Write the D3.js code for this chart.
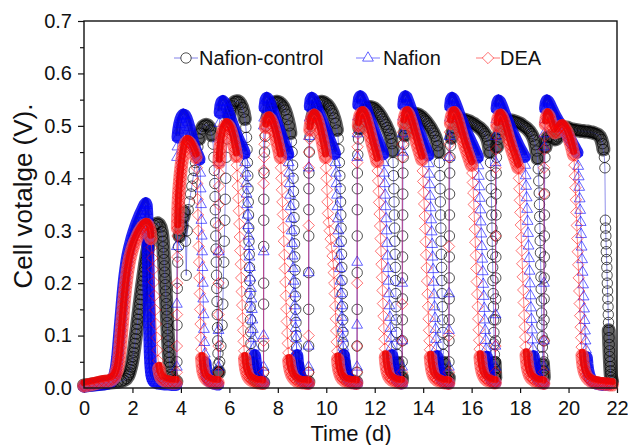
<!DOCTYPE html>
<html><head><meta charset="utf-8">
<script src="https://cdn.jsdelivr.net/npm/d3@7"></script>
<style>body{margin:0;background:#fff}svg{display:block}text{font-family:"Liberation Sans",Arial,sans-serif}</style>
</head><body><svg id="c" width="628" height="445"></svg>
<script>
const xTicks=[0,2,4,6,8,10,12,14,16,18,20,22];
const yTicks=[0,0.1,0.2,0.3,0.4,0.5,0.6,0.7];
const yMinorTicks=[0.05,0.15,0.25,0.35,0.45,0.55,0.65];
const seriesNames=["Nafion-control","Nafion","DEA"];
const xTitle="Time (d)";
const yTitle="Cell votalge (V).";

// [time (d), cell voltage (V)]
const controlData=[
[0,0.005],[0.2,0.006],[0.4,0.007],[0.6,0.008],[0.8,0.009],[1,0.01],[1.2,0.011],[1.4,0.012],[1.55,0.013],[1.65,0.015],[1.75,0.018],[1.82,0.023],[1.85,0.026],[1.88,0.03],[1.91,0.035],[1.94,0.04],[1.97,0.046],[2,0.053],[2.025,0.06],[2.05,0.068],[2.075,0.076],[2.1,0.085],[2.125,0.094],[2.15,0.103],[2.175,0.112],[2.2,0.122],[2.225,0.131],[2.25,0.141],[2.275,0.15],[2.3,0.16],[2.325,0.169],[2.35,0.178],[2.375,0.187],[2.4,0.196],[2.425,0.204],[2.45,0.213],[2.475,0.221],[2.5,0.229],[2.525,0.237],[2.55,0.244],[2.575,0.251],[2.6,0.258],[2.625,0.264],[2.65,0.27],[2.675,0.276],[2.7,0.281],[2.75,0.29],[2.8,0.298],[2.86,0.305],[2.92,0.31],[2.98,0.313],[3.04,0.314],[3.1,0.312],[3.16,0.307],[3.21,0.298],[3.235,0.29],[3.255,0.28],[3.272,0.269],[3.288,0.257],[3.303,0.245],[3.317,0.233],[3.33,0.221],[3.343,0.209],[3.356,0.197],[3.369,0.185],[3.382,0.173],[3.395,0.161],[3.408,0.149],[3.421,0.137],[3.434,0.125],[3.447,0.113],[3.46,0.101],[3.473,0.09],[3.486,0.079],[3.5,0.068],[3.515,0.058],[3.53,0.049],[3.548,0.04],[3.568,0.032],[3.59,0.026],[3.62,0.021],[3.66,0.017],[3.72,0.014],[3.78,0.013],[3.81,0.012],
[3.835,0.05],[3.84,0.12],[3.85,0.19],[3.87,0.24],[3.9,0.27],[3.94,0.29],[3.99,0.3],[4.04,0.31],[4.09,0.325],[4.14,0.335],[4.19,0.28],[4.22,0.215],[4.26,0.3],[4.3,0.34],[4.35,0.355],[4.4,0.37],[4.45,0.385],[4.5,0.4],[4.55,0.415],[4.6,0.43],[4.65,0.445],[4.7,0.46],[4.75,0.475],[4.8,0.486],[4.86,0.494],[4.92,0.499],[4.98,0.501],[5.04,0.502],[5.1,0.501],[5.16,0.498],[5.22,0.492],[5.28,0.482],[5.33,0.465],[5.36,0.44],[5.38,0.415],[5.4,0.39],[5.41,0.365],[5.42,0.34],[5.43,0.315],[5.44,0.29],[5.45,0.265],[5.46,0.24],[5.47,0.215],[5.48,0.19],[5.49,0.165],[5.5,0.14],[5.51,0.115],[5.52,0.09],[5.53,0.066],[5.54,0.045],[5.548,0.03],
[5.56,0.03],[5.6,0.05],[5.65,0.08],[5.7,0.12],[5.73,0.16],[5.75,0.2],[5.77,0.24],[5.79,0.28],[5.81,0.32],[5.83,0.36],[5.85,0.4],[5.87,0.44],[5.9,0.475],[5.94,0.5],[5.99,0.518],[6.05,0.53],[6.11,0.538],[6.17,0.543],[6.23,0.546],[6.29,0.547],[6.35,0.547],[6.41,0.545],[6.47,0.541],[6.53,0.535],[6.59,0.526],[6.64,0.513],[6.68,0.497],[6.71,0.478],[6.73,0.455],[6.745,0.43],[6.76,0.405],[6.77,0.38],[6.78,0.355],[6.79,0.33],[6.8,0.305],[6.81,0.28],[6.82,0.255],[6.83,0.23],[6.84,0.205],[6.85,0.18],[6.86,0.155],[6.87,0.13],[6.88,0.107],[6.89,0.085],[6.9,0.065],[6.92,0.048],[6.94,0.035],[6.97,0.026],[7.01,0.02],[7.07,0.016],[7.15,0.013],[7.25,0.011],[7.35,0.01],[7.4,0.01],
[7.41,0.03],[7.412,0.08],[7.414,0.16],[7.416,0.2],[7.418,0.27],[7.42,0.32],[7.422,0.36],[7.43,0.41],[7.45,0.45],[7.48,0.48],[7.52,0.5],[7.57,0.515],[7.63,0.526],[7.69,0.534],[7.75,0.539],[7.81,0.543],[7.87,0.545],[7.93,0.546],[7.99,0.546],[8.05,0.545],[8.11,0.543],[8.17,0.54],[8.23,0.536],[8.29,0.53],[8.35,0.522],[8.41,0.512],[8.47,0.5],[8.52,0.486],[8.56,0.47],[8.59,0.45],[8.61,0.425],[8.63,0.4],[8.645,0.375],[8.66,0.35],[8.67,0.325],[8.68,0.3],[8.69,0.275],[8.7,0.25],[8.71,0.225],[8.72,0.2],[8.73,0.175],[8.74,0.15],[8.75,0.125],[8.76,0.1],[8.775,0.078],[8.79,0.058],[8.81,0.042],[8.84,0.03],[8.88,0.022],[8.94,0.017],[9.02,0.014],[9.12,0.012],[9.22,0.011],[9.26,0.011],
[9.27,0.03],[9.272,0.08],[9.274,0.15],[9.276,0.22],[9.278,0.29],[9.28,0.34],[9.282,0.38],[9.285,0.41],[9.3,0.45],[9.33,0.48],[9.37,0.5],[9.42,0.515],[9.48,0.526],[9.54,0.534],[9.6,0.539],[9.66,0.543],[9.72,0.545],[9.78,0.546],[9.84,0.546],[9.9,0.545],[9.96,0.543],[10.02,0.541],[10.08,0.538],[10.14,0.534],[10.2,0.529],[10.26,0.523],[10.32,0.515],[10.38,0.505],[10.44,0.492],[10.49,0.476],[10.52,0.455],[10.54,0.43],[10.56,0.405],[10.575,0.38],[10.59,0.355],[10.6,0.33],[10.61,0.305],[10.62,0.28],[10.63,0.255],[10.64,0.23],[10.65,0.205],[10.66,0.18],[10.67,0.155],[10.68,0.13],[10.69,0.106],[10.7,0.084],[10.715,0.064],[10.73,0.048],[10.76,0.035],[10.8,0.026],[10.86,0.019],[10.94,0.015],[11.04,0.013],[11.14,0.012],[11.24,0.011],
[11.27,0.03],[11.272,0.08],[11.274,0.15],[11.276,0.22],[11.278,0.29],[11.28,0.34],[11.282,0.38],[11.285,0.41],[11.3,0.445],[11.33,0.475],[11.37,0.495],[11.42,0.508],[11.48,0.518],[11.54,0.525],[11.6,0.53],[11.66,0.533],[11.72,0.535],[11.78,0.536],[11.84,0.536],[11.9,0.535],[11.96,0.534],[12.02,0.532],[12.08,0.529],[12.14,0.526],[12.2,0.522],[12.26,0.518],[12.32,0.513],[12.38,0.508],[12.44,0.503],[12.5,0.497],[12.56,0.491],[12.62,0.484],[12.67,0.476],[12.71,0.466],[12.74,0.452],[12.76,0.43],[12.775,0.405],[12.79,0.38],[12.8,0.355],[12.81,0.33],[12.82,0.305],[12.83,0.28],[12.84,0.255],[12.85,0.23],[12.86,0.205],[12.87,0.18],[12.88,0.155],[12.89,0.13],[12.9,0.106],[12.91,0.084],[12.925,0.064],[12.94,0.048],[12.96,0.036],[12.99,0.027],[13.03,0.02],[13.08,0.016],[13.12,0.014],
[13.13,0.02],[13.133,0.05],[13.136,0.09],[13.14,0.13],[13.143,0.17],[13.146,0.21],[13.15,0.25],[13.153,0.29],[13.156,0.33],[13.16,0.37],[13.165,0.41],[13.175,0.44],[13.2,0.465],[13.24,0.482],[13.29,0.495],[13.35,0.505],[13.41,0.512],[13.47,0.517],[13.53,0.52],[13.59,0.522],[13.65,0.523],[13.71,0.523],[13.77,0.522],[13.83,0.521],[13.89,0.519],[13.95,0.517],[14.01,0.514],[14.07,0.511],[14.13,0.508],[14.19,0.504],[14.25,0.5],[14.31,0.496],[14.37,0.491],[14.43,0.486],[14.49,0.48],[14.55,0.472],[14.6,0.462],[14.64,0.45],[14.67,0.43],[14.69,0.405],[14.7,0.38],[14.71,0.355],[14.72,0.33],[14.73,0.305],[14.74,0.28],[14.75,0.255],[14.76,0.23],[14.77,0.205],[14.78,0.18],[14.79,0.155],[14.8,0.13],[14.81,0.106],[14.82,0.084],[14.835,0.064],[14.85,0.048],[14.87,0.036],[14.9,0.027],[14.94,0.02],[14.99,0.016],[15.04,0.014],
[15.06,0.02],[15.063,0.05],[15.066,0.09],[15.07,0.13],[15.073,0.17],[15.076,0.21],[15.08,0.25],[15.083,0.29],[15.086,0.33],[15.09,0.37],[15.095,0.41],[15.105,0.44],[15.13,0.462],[15.17,0.477],[15.22,0.488],[15.28,0.496],[15.34,0.502],[15.4,0.506],[15.46,0.509],[15.52,0.511],[15.58,0.512],[15.64,0.512],[15.7,0.512],[15.76,0.511],[15.82,0.51],[15.88,0.509],[15.94,0.508],[16,0.506],[16.06,0.505],[16.12,0.503],[16.18,0.501],[16.24,0.499],[16.3,0.497],[16.36,0.495],[16.42,0.492],[16.48,0.489],[16.54,0.485],[16.6,0.48],[16.66,0.473],[16.71,0.463],[16.75,0.45],[16.78,0.43],[16.8,0.405],[16.81,0.38],[16.82,0.355],[16.83,0.33],[16.84,0.305],[16.85,0.28],[16.86,0.255],[16.87,0.23],[16.88,0.205],[16.89,0.18],[16.9,0.155],[16.91,0.13],[16.92,0.106],[16.93,0.084],[16.94,0.064],[16.95,0.048],[16.96,0.036],[16.97,0.027],[16.975,0.02],
[16.98,0.02],[16.983,0.05],[16.986,0.09],[16.99,0.13],[16.993,0.17],[16.996,0.21],[17,0.25],[17.003,0.29],[17.006,0.33],[17.01,0.37],[17.015,0.41],[17.025,0.44],[17.05,0.46],[17.09,0.474],[17.14,0.485],[17.2,0.493],[17.26,0.499],[17.32,0.503],[17.38,0.506],[17.44,0.508],[17.5,0.509],[17.56,0.51],[17.62,0.51],[17.68,0.51],[17.74,0.509],[17.8,0.508],[17.86,0.507],[17.92,0.506],[17.98,0.505],[18.04,0.503],[18.1,0.501],[18.16,0.499],[18.22,0.497],[18.28,0.495],[18.34,0.492],[18.4,0.489],[18.46,0.485],[18.52,0.48],[18.58,0.473],[18.63,0.464],[18.68,0.452],[18.72,0.438],[18.75,0.418],[18.77,0.395],[18.79,0.372],[18.8,0.35],[18.81,0.327],[18.82,0.304],[18.83,0.281],[18.84,0.258],[18.85,0.235],[18.86,0.212],[18.87,0.189],[18.88,0.166],[18.89,0.143],[18.9,0.12],[18.91,0.098],[18.92,0.078],[18.93,0.06],[18.945,0.045],[18.96,0.033],[18.975,0.025],
[18.98,0.02],[18.983,0.05],[18.986,0.09],[18.99,0.13],[18.993,0.17],[18.996,0.21],[19,0.25],[19.003,0.29],[19.006,0.33],[19.01,0.37],[19.015,0.41],[19.025,0.44],[19.05,0.46],[19.09,0.472],[19.14,0.478],[19.2,0.48],[19.26,0.479],[19.32,0.477],[19.38,0.475],[19.44,0.474],[19.5,0.475],[19.56,0.479],[19.62,0.485],[19.68,0.49],[19.74,0.494],[19.8,0.496],[19.86,0.497],[19.92,0.497],[19.98,0.496],[20.04,0.495],[20.1,0.494],[20.16,0.493],[20.22,0.493],[20.28,0.492],[20.34,0.492],[20.4,0.491],[20.46,0.491],[20.52,0.49],[20.58,0.49],[20.64,0.49],[20.7,0.489],[20.76,0.489],[20.82,0.489],[20.88,0.488],[20.94,0.488],[21,0.487],[21.06,0.486],[21.12,0.485],[21.18,0.484],[21.24,0.482],[21.3,0.479],[21.35,0.474],[21.4,0.466],[21.44,0.455],[21.48,0.44],[21.5,0.42],[21.52,0.32],[21.53,0.305],[21.54,0.29],[21.55,0.275],[21.56,0.26],[21.57,0.245],[21.58,0.23],[21.59,0.215],[21.6,0.2],[21.61,0.185],[21.62,0.17],[21.63,0.155],[21.64,0.14],[21.65,0.125],[21.66,0.11],[21.67,0.096],[21.68,0.083],[21.69,0.071],[21.7,0.06],[21.71,0.05],[21.72,0.041],[21.73,0.033],[21.74,0.026],[21.76,0.02],[21.78,0.015],[21.8,0.012]
];

const nafionData=[
[0,0.003],[0.2,0.004],[0.4,0.005],[0.6,0.006],[0.8,0.007],[1,0.009],[1.1,0.012],[1.2,0.017],[1.24,0.021],[1.27,0.026],[1.3,0.032],[1.33,0.04],[1.355,0.049],[1.38,0.059],[1.4,0.069],[1.42,0.08],[1.44,0.091],[1.46,0.102],[1.48,0.113],[1.5,0.124],[1.52,0.135],[1.54,0.146],[1.56,0.157],[1.58,0.168],[1.6,0.178],[1.62,0.188],[1.64,0.197],[1.66,0.206],[1.68,0.214],[1.71,0.225],[1.74,0.235],[1.77,0.244],[1.8,0.252],[1.84,0.261],[1.88,0.269],[1.93,0.278],[1.98,0.287],[2.04,0.296],[2.11,0.306],[2.18,0.315],[2.25,0.323],[2.32,0.331],[2.39,0.338],[2.45,0.344],[2.5,0.349],[2.55,0.352],[2.58,0.348],[2.595,0.337],[2.605,0.325],[2.613,0.313],[2.62,0.301],[2.626,0.289],[2.632,0.277],[2.638,0.265],[2.644,0.253],[2.65,0.241],[2.655,0.229],[2.66,0.217],[2.665,0.205],[2.67,0.193],[2.675,0.181],[2.68,0.169],[2.685,0.157],[2.69,0.145],[2.695,0.133],[2.7,0.121],[2.705,0.109],[2.71,0.097],[2.716,0.085],[2.722,0.074],[2.73,0.063],[2.74,0.053],[2.75,0.044],[2.765,0.036],[2.78,0.029],[2.8,0.023],[2.83,0.018],[2.87,0.014],[2.93,0.011],[3.05,0.009],[3.2,0.008],[3.35,0.007],[3.5,0.007],[3.65,0.006],[3.8,0.006],
[3.83,0.04],[3.833,0.16],[3.836,0.27],[3.84,0.44],[3.855,0.46],[3.87,0.478],[3.9,0.492],[3.94,0.503],[3.99,0.512],[4.04,0.518],[4.1,0.521],[4.16,0.52],[4.22,0.515],[4.28,0.507],[4.34,0.497],[4.4,0.486],[4.46,0.475],[4.52,0.465],[4.58,0.456],[4.64,0.449],[4.7,0.443],[4.76,0.436],[4.8,0.41],[4.815,0.38],[4.83,0.35],[4.845,0.32],[4.86,0.29],[4.875,0.26],[4.89,0.23],[4.905,0.2],[4.92,0.17],[4.935,0.14],[4.95,0.112],[4.965,0.087],[4.985,0.065],[5.005,0.048],[5.03,0.035],[5.06,0.026],[5.1,0.019],[5.16,0.014],[5.24,0.011],[5.34,0.009],[5.44,0.008],[5.53,0.007],
[5.55,0.04],[5.553,0.11],[5.556,0.26],[5.56,0.43],[5.575,0.475],[5.59,0.505],[5.61,0.525],[5.64,0.538],[5.68,0.545],[5.73,0.547],[5.79,0.544],[5.85,0.538],[5.91,0.531],[5.97,0.523],[6.03,0.515],[6.09,0.507],[6.15,0.499],[6.21,0.492],[6.27,0.485],[6.33,0.478],[6.39,0.472],[6.45,0.466],[6.51,0.46],[6.57,0.454],[6.62,0.448],[6.65,0.43],[6.67,0.41],[6.69,0.39],[6.71,0.37],[6.73,0.35],[6.75,0.33],[6.77,0.31],[6.79,0.29],[6.81,0.27],[6.83,0.25],[6.85,0.23],[6.87,0.21],[6.89,0.19],[6.91,0.17],[6.93,0.15],[6.95,0.13],[6.97,0.112],[6.99,0.095],[7.02,0.078],[7.05,0.062],[7.08,0.048],[7.11,0.037],[7.15,0.028],[7.2,0.021],[7.26,0.016],[7.33,0.012],[7.4,0.01],
[7.41,0.04],[7.413,0.1],[7.416,0.26],[7.42,0.5],[7.435,0.515],[7.46,0.535],[7.5,0.549],[7.54,0.553],[7.59,0.551],[7.65,0.545],[7.71,0.537],[7.77,0.529],[7.83,0.521],[7.89,0.513],[7.95,0.505],[8.01,0.497],[8.07,0.489],[8.13,0.481],[8.19,0.474],[8.25,0.467],[8.31,0.46],[8.37,0.453],[8.42,0.446],[8.45,0.43],[8.47,0.41],[8.49,0.39],[8.51,0.368],[8.53,0.346],[8.55,0.323],[8.57,0.3],[8.59,0.276],[8.61,0.252],[8.63,0.228],[8.65,0.204],[8.67,0.18],[8.69,0.157],[8.71,0.135],[8.73,0.114],[8.75,0.095],[8.77,0.078],[8.795,0.062],[8.82,0.048],[8.85,0.037],[8.89,0.028],[8.94,0.021],[9,0.016],[9.08,0.012],[9.17,0.01],[9.25,0.009],
[9.27,0.04],[9.273,0.08],[9.276,0.22],[9.28,0.42],[9.29,0.48],[9.31,0.515],[9.33,0.537],[9.36,0.549],[9.4,0.553],[9.45,0.551],[9.51,0.545],[9.57,0.538],[9.63,0.531],[9.69,0.524],[9.75,0.517],[9.81,0.51],[9.87,0.503],[9.93,0.496],[9.99,0.489],[10.05,0.482],[10.11,0.475],[10.17,0.468],[10.23,0.461],[10.29,0.454],[10.35,0.447],[10.38,0.43],[10.4,0.41],[10.42,0.39],[10.44,0.368],[10.46,0.346],[10.48,0.323],[10.5,0.3],[10.52,0.276],[10.54,0.252],[10.56,0.228],[10.58,0.204],[10.6,0.18],[10.62,0.157],[10.64,0.135],[10.66,0.114],[10.68,0.095],[10.7,0.078],[10.725,0.062],[10.75,0.048],[10.78,0.037],[10.82,0.028],[10.87,0.021],[10.93,0.016],[11.01,0.012],[11.1,0.01],[11.2,0.009],[11.26,0.009],
[11.27,0.04],[11.273,0.12],[11.276,0.24],[11.28,0.44],[11.29,0.485],[11.31,0.517],[11.33,0.54],[11.36,0.552],[11.4,0.556],[11.45,0.554],[11.51,0.548],[11.57,0.541],[11.63,0.533],[11.69,0.525],[11.75,0.517],[11.81,0.509],[11.87,0.501],[11.93,0.494],[11.99,0.487],[12.05,0.48],[12.11,0.473],[12.17,0.466],[12.23,0.459],[12.29,0.452],[12.34,0.446],[12.37,0.43],[12.39,0.41],[12.41,0.39],[12.43,0.368],[12.45,0.346],[12.47,0.323],[12.49,0.3],[12.51,0.276],[12.53,0.252],[12.55,0.228],[12.57,0.204],[12.59,0.18],[12.61,0.157],[12.63,0.135],[12.65,0.114],[12.67,0.095],[12.69,0.078],[12.715,0.062],[12.74,0.048],[12.77,0.037],[12.81,0.028],[12.86,0.021],[12.92,0.016],[13,0.012],[13.07,0.01],[13.12,0.009],
[13.13,0.04],[13.133,0.09],[13.136,0.2],[13.14,0.45],[13.15,0.485],[13.17,0.517],[13.19,0.54],[13.22,0.552],[13.26,0.556],[13.31,0.554],[13.37,0.547],[13.43,0.539],[13.49,0.531],[13.55,0.523],[13.61,0.515],[13.67,0.507],[13.73,0.499],[13.79,0.492],[13.85,0.485],[13.91,0.478],[13.97,0.471],[14.03,0.464],[14.09,0.457],[14.15,0.45],[14.2,0.444],[14.23,0.428],[14.25,0.408],[14.27,0.388],[14.29,0.366],[14.31,0.344],[14.33,0.321],[14.35,0.298],[14.37,0.274],[14.39,0.25],[14.41,0.226],[14.43,0.202],[14.45,0.178],[14.47,0.155],[14.49,0.133],[14.51,0.112],[14.53,0.093],[14.55,0.076],[14.575,0.06],[14.6,0.047],[14.63,0.036],[14.67,0.027],[14.72,0.02],[14.79,0.015],[14.87,0.012],[14.96,0.01],[15.05,0.009],
[15.06,0.04],[15.063,0.11],[15.066,0.18],[15.07,0.44],[15.08,0.48],[15.1,0.515],[15.12,0.537],[15.15,0.549],[15.19,0.553],[15.24,0.551],[15.3,0.545],[15.36,0.538],[15.42,0.53],[15.48,0.522],[15.54,0.515],[15.6,0.508],[15.66,0.501],[15.72,0.494],[15.78,0.488],[15.84,0.482],[15.9,0.476],[15.96,0.47],[16.02,0.464],[16.08,0.458],[16.14,0.452],[16.2,0.446],[16.25,0.44],[16.28,0.424],[16.3,0.404],[16.32,0.384],[16.34,0.362],[16.36,0.34],[16.38,0.317],[16.4,0.294],[16.42,0.27],[16.44,0.246],[16.46,0.222],[16.48,0.198],[16.5,0.175],[16.52,0.152],[16.54,0.13],[16.56,0.11],[16.58,0.091],[16.6,0.074],[16.625,0.059],[16.65,0.046],[16.68,0.035],[16.72,0.027],[16.77,0.02],[16.83,0.015],[16.9,0.012],[16.97,0.01],
[16.98,0.04],[16.983,0.08],[16.986,0.14],[16.99,0.43],[17,0.48],[17.02,0.512],[17.04,0.533],[17.07,0.544],[17.11,0.548],[17.16,0.546],[17.22,0.54],[17.28,0.533],[17.34,0.525],[17.4,0.518],[17.46,0.511],[17.52,0.504],[17.58,0.497],[17.64,0.491],[17.7,0.485],[17.76,0.479],[17.82,0.473],[17.88,0.467],[17.94,0.461],[18,0.456],[18.06,0.451],[18.12,0.446],[18.18,0.441],[18.21,0.425],[18.23,0.405],[18.25,0.385],[18.27,0.363],[18.29,0.341],[18.31,0.318],[18.33,0.295],[18.35,0.271],[18.37,0.247],[18.39,0.223],[18.41,0.199],[18.43,0.176],[18.45,0.153],[18.47,0.131],[18.49,0.111],[18.51,0.092],[18.53,0.075],[18.555,0.06],[18.58,0.047],[18.61,0.036],[18.65,0.027],[18.7,0.02],[18.77,0.015],[18.85,0.012],[18.93,0.01],[18.97,0.009],
[18.98,0.04],[18.983,0.09],[18.986,0.2],[18.99,0.46],[19,0.485],[19.02,0.512],[19.04,0.533],[19.07,0.544],[19.11,0.548],[19.16,0.546],[19.22,0.541],[19.28,0.535],[19.34,0.529],[19.4,0.523],[19.46,0.518],[19.52,0.513],[19.58,0.508],[19.64,0.504],[19.7,0.5],[19.76,0.496],[19.82,0.492],[19.88,0.488],[19.94,0.484],[20,0.479],[20.06,0.474],[20.12,0.469],[20.18,0.464],[20.24,0.459],[20.3,0.454],[20.36,0.449],[20.4,0.423],[20.42,0.403],[20.44,0.383],[20.46,0.361],[20.48,0.339],[20.5,0.316],[20.52,0.293],[20.54,0.269],[20.56,0.245],[20.58,0.221],[20.6,0.197],[20.62,0.174],[20.64,0.151],[20.66,0.129],[20.68,0.109],[20.7,0.09],[20.72,0.073],[20.745,0.058],[20.77,0.045],[20.8,0.034],[20.84,0.026],[20.89,0.019],[20.96,0.014],[21.04,0.011],[21.14,0.009],[21.24,0.008],[21.34,0.007],[21.44,0.006],[21.54,0.006],[21.6,0.006]
];

const deaData=[
[0,0.004],[0.2,0.006],[0.4,0.008],[0.6,0.01],[0.8,0.012],[1,0.013],[1.15,0.016],[1.25,0.02],[1.29,0.024],[1.32,0.028],[1.35,0.032],[1.38,0.037],[1.405,0.043],[1.43,0.05],[1.45,0.058],[1.47,0.067],[1.49,0.077],[1.51,0.088],[1.53,0.099],[1.55,0.11],[1.57,0.121],[1.59,0.132],[1.61,0.143],[1.63,0.154],[1.65,0.164],[1.67,0.174],[1.69,0.183],[1.71,0.192],[1.73,0.2],[1.76,0.211],[1.79,0.221],[1.82,0.23],[1.85,0.238],[1.88,0.245],[1.92,0.253],[1.96,0.26],[2,0.266],[2.05,0.273],[2.1,0.279],[2.16,0.285],[2.22,0.291],[2.28,0.297],[2.35,0.302],[2.42,0.307],[2.49,0.31],[2.56,0.312],[2.62,0.311],[2.68,0.306],[2.73,0.298],[2.76,0.285],[2.79,0.268],[2.82,0.248],[2.85,0.226],[2.88,0.202],[2.91,0.176],[2.94,0.149],[2.97,0.122],[3,0.096],[3.03,0.072],[3.06,0.052],[3.09,0.037],[3.13,0.027],[3.18,0.02],[3.25,0.016],[3.35,0.013],[3.5,0.011],[3.65,0.01],[3.8,0.01],
[3.83,0.03],[3.835,0.08],[3.84,0.14],[3.845,0.2],[3.85,0.25],[3.86,0.29],[3.865,0.305],[3.87,0.318],[3.877,0.33],[3.885,0.342],[3.895,0.353],[3.905,0.363],[3.915,0.372],[3.93,0.381],[3.945,0.39],[3.96,0.398],[3.975,0.406],[3.99,0.413],[4.01,0.421],[4.03,0.429],[4.06,0.438],[4.09,0.447],[4.12,0.455],[4.15,0.461],[4.2,0.467],[4.26,0.47],[4.32,0.469],[4.38,0.466],[4.44,0.461],[4.5,0.455],[4.56,0.448],[4.62,0.44],[4.66,0.42],[4.675,0.39],[4.69,0.36],[4.705,0.33],[4.72,0.3],[4.735,0.27],[4.75,0.24],[4.765,0.21],[4.78,0.18],[4.795,0.15],[4.81,0.122],[4.825,0.096],[4.845,0.074],[4.865,0.056],[4.89,0.042],[4.92,0.032],[4.96,0.025],[5.01,0.02],[5.08,0.016],[5.18,0.013],[5.3,0.011],[5.42,0.01],[5.53,0.01],
[5.55,0.03],[5.552,0.08],[5.554,0.14],[5.556,0.2],[5.558,0.26],[5.56,0.31],[5.563,0.35],[5.567,0.385],[5.572,0.41],[5.58,0.43],[5.59,0.442],[5.61,0.452],[5.64,0.465],[5.68,0.477],[5.72,0.487],[5.77,0.494],[5.82,0.499],[5.88,0.502],[5.94,0.501],[6,0.497],[6.06,0.49],[6.12,0.48],[6.18,0.468],[6.24,0.455],[6.29,0.442],[6.31,0.425],[6.33,0.405],[6.35,0.385],[6.37,0.362],[6.39,0.338],[6.41,0.313],[6.43,0.288],[6.45,0.262],[6.47,0.236],[6.49,0.21],[6.51,0.184],[6.53,0.158],[6.55,0.133],[6.57,0.11],[6.59,0.089],[6.61,0.071],[6.635,0.056],[6.66,0.044],[6.69,0.035],[6.73,0.028],[6.78,0.022],[6.84,0.018],[6.91,0.015],[6.99,0.013],[7.08,0.011],[7.18,0.01],[7.28,0.01],[7.38,0.009],
[7.41,0.03],[7.413,0.09],[7.416,0.39],[7.421,0.415],[7.43,0.44],[7.45,0.465],[7.47,0.482],[7.5,0.497],[7.54,0.508],[7.59,0.514],[7.64,0.515],[7.7,0.512],[7.76,0.506],[7.82,0.497],[7.88,0.487],[7.94,0.476],[8,0.464],[8.06,0.452],[8.11,0.44],[8.13,0.42],[8.15,0.4],[8.17,0.378],[8.19,0.355],[8.21,0.331],[8.23,0.306],[8.25,0.28],[8.27,0.254],[8.29,0.228],[8.31,0.202],[8.33,0.176],[8.35,0.151],[8.37,0.127],[8.39,0.105],[8.41,0.085],[8.435,0.067],[8.46,0.052],[8.49,0.041],[8.53,0.032],[8.58,0.025],[8.64,0.02],[8.71,0.016],[8.8,0.013],[8.9,0.011],[9,0.01],[9.1,0.01],[9.2,0.009],[9.26,0.009],
[9.27,0.03],[9.273,0.1],[9.276,0.31],[9.28,0.42],[9.29,0.45],[9.31,0.475],[9.33,0.492],[9.36,0.505],[9.4,0.513],[9.45,0.518],[9.5,0.52],[9.56,0.518],[9.62,0.512],[9.68,0.503],[9.74,0.492],[9.8,0.48],[9.86,0.467],[9.92,0.453],[9.97,0.44],[9.99,0.42],[10.01,0.4],[10.03,0.378],[10.05,0.355],[10.07,0.333],[10.1,0.316],[10.14,0.3],[10.18,0.284],[10.22,0.268],[10.26,0.252],[10.29,0.236],[10.31,0.22],[10.33,0.2],[10.35,0.18],[10.37,0.156],[10.39,0.132],[10.41,0.109],[10.43,0.088],[10.45,0.07],[10.475,0.055],[10.5,0.043],[10.53,0.034],[10.57,0.027],[10.62,0.021],[10.68,0.017],[10.76,0.014],[10.85,0.012],[10.95,0.011],[11.05,0.01],[11.15,0.01],[11.25,0.009],
[11.27,0.03],[11.273,0.08],[11.276,0.2],[11.28,0.43],[11.29,0.46],[11.31,0.485],[11.33,0.5],[11.36,0.512],[11.4,0.52],[11.45,0.524],[11.51,0.525],[11.57,0.521],[11.63,0.514],[11.69,0.505],[11.75,0.495],[11.81,0.484],[11.87,0.473],[11.93,0.462],[11.99,0.452],[12.05,0.442],[12.1,0.432],[12.12,0.414],[12.14,0.395],[12.16,0.375],[12.18,0.354],[12.2,0.332],[12.22,0.309],[12.24,0.285],[12.26,0.261],[12.28,0.236],[12.3,0.211],[12.32,0.186],[12.34,0.161],[12.36,0.137],[12.38,0.114],[12.4,0.093],[12.42,0.075],[12.445,0.059],[12.47,0.046],[12.5,0.036],[12.54,0.028],[12.59,0.022],[12.65,0.018],[12.73,0.015],[12.82,0.013],[12.92,0.011],[13.02,0.01],[13.11,0.01],
[13.13,0.03],[13.133,0.09],[13.136,0.16],[13.14,0.44],[13.15,0.465],[13.17,0.488],[13.2,0.505],[13.24,0.517],[13.29,0.524],[13.35,0.525],[13.41,0.52],[13.47,0.512],[13.53,0.503],[13.59,0.493],[13.65,0.483],[13.71,0.473],[13.77,0.463],[13.83,0.454],[13.89,0.445],[13.95,0.436],[13.98,0.414],[14,0.394],[14.02,0.373],[14.04,0.351],[14.06,0.328],[14.08,0.304],[14.1,0.279],[14.12,0.254],[14.14,0.229],[14.16,0.204],[14.18,0.179],[14.2,0.155],[14.22,0.132],[14.24,0.11],[14.26,0.09],[14.28,0.073],[14.305,0.058],[14.33,0.046],[14.36,0.036],[14.4,0.028],[14.45,0.022],[14.51,0.018],[14.59,0.015],[14.68,0.013],[14.78,0.011],[14.88,0.01],[14.98,0.01],[15.05,0.009],
[15.06,0.03],[15.063,0.1],[15.066,0.27],[15.07,0.44],[15.08,0.465],[15.1,0.488],[15.13,0.505],[15.17,0.517],[15.22,0.524],[15.28,0.525],[15.34,0.521],[15.4,0.514],[15.46,0.505],[15.52,0.495],[15.58,0.485],[15.64,0.475],[15.7,0.466],[15.76,0.457],[15.82,0.449],[15.88,0.441],[15.94,0.433],[16,0.425],[16.03,0.41],[16.05,0.392],[16.07,0.372],[16.09,0.35],[16.11,0.327],[16.13,0.303],[16.15,0.278],[16.17,0.253],[16.19,0.228],[16.21,0.203],[16.23,0.179],[16.25,0.155],[16.27,0.132],[16.29,0.111],[16.31,0.091],[16.33,0.074],[16.355,0.059],[16.38,0.047],[16.41,0.037],[16.45,0.029],[16.5,0.023],[16.56,0.018],[16.64,0.015],[16.73,0.013],[16.83,0.011],[16.93,0.01],[16.97,0.01],
[16.98,0.03],[16.983,0.08],[16.986,0.29],[16.99,0.42],[17,0.455],[17.02,0.482],[17.05,0.5],[17.09,0.513],[17.14,0.519],[17.2,0.52],[17.26,0.516],[17.32,0.509],[17.38,0.5],[17.44,0.49],[17.5,0.48],[17.56,0.47],[17.62,0.461],[17.68,0.452],[17.74,0.444],[17.8,0.436],[17.86,0.428],[17.92,0.42],[17.95,0.4],[17.97,0.38],[17.99,0.358],[18.01,0.335],[18.03,0.311],[18.05,0.287],[18.07,0.262],[18.09,0.237],[18.11,0.212],[18.13,0.187],[18.15,0.163],[18.17,0.139],[18.19,0.117],[18.21,0.097],[18.23,0.079],[18.255,0.063],[18.28,0.05],[18.31,0.039],[18.35,0.031],[18.4,0.024],[18.46,0.019],[18.54,0.016],[18.63,0.013],[18.73,0.011],[18.83,0.01],[18.93,0.01],[18.97,0.009],
[18.98,0.03],[18.983,0.09],[18.986,0.37],[18.99,0.42],[19,0.455],[19.02,0.48],[19.05,0.503],[19.09,0.516],[19.14,0.521],[19.2,0.517],[19.26,0.507],[19.32,0.497],[19.38,0.49],[19.44,0.487],[19.5,0.488],[19.56,0.492],[19.62,0.496],[19.68,0.499],[19.74,0.5],[19.8,0.498],[19.86,0.494],[19.92,0.489],[19.98,0.482],[20.04,0.474],[20.1,0.465],[20.16,0.455],[20.21,0.445],[20.24,0.425],[20.26,0.404],[20.28,0.382],[20.3,0.359],[20.32,0.335],[20.34,0.31],[20.36,0.285],[20.38,0.26],[20.4,0.235],[20.42,0.21],[20.44,0.185],[20.46,0.161],[20.48,0.138],[20.5,0.116],[20.52,0.096],[20.54,0.078],[20.565,0.062],[20.59,0.049],[20.62,0.039],[20.66,0.031],[20.71,0.025],[20.77,0.02],[20.85,0.016],[20.94,0.013],[21.04,0.011],[21.14,0.01],[21.24,0.009],[21.34,0.008],[21.44,0.008],[21.54,0.007],[21.64,0.007],[21.74,0.006],[21.8,0.006]
];

const svg=d3.select("#c");
const x=d3.scaleLinear().domain([0,22]).range([84,617]);
const y=d3.scaleLinear().domain([0,0.7]).range([388,21]);
const FONT='"Liberation Sans",Arial,sans-serif';

// axes
svg.append("g").attr("transform","translate(84,0)")
  .call(d3.axisLeft(y).tickValues(yMinorTicks).tickSize(4).tickFormat(""))
  .call(g=>g.select(".domain").remove());
svg.append("g").attr("transform","translate(84,0)")
  .call(d3.axisLeft(y).tickValues(yTicks).tickSize(6).tickPadding(6).tickFormat(d3.format(".1f")))
  .call(g=>g.select(".domain").remove())
  .attr("font-size",20).attr("font-family",FONT);
svg.append("g").attr("transform","translate(0,388)")
  .call(d3.axisBottom(x).tickValues(xTicks).tickSize(5).tickPadding(8).tickFormat(d3.format("d")))
  .call(g=>g.select(".domain").remove())
  .attr("font-size",20).attr("font-family",FONT);
svg.selectAll(".tick line").attr("stroke","#111").attr("stroke-width",1.2);
svg.selectAll(".tick text").attr("fill","#111");

// series
const circlePath=d3.symbol(d3.symbolCircle,Math.PI*5.2*5.2)();
const triPath="M0,-6.2L5.4,3.1L-5.4,3.1Z";
const diaPath="M0,-5.7L5.7,0L0,5.7L-5.7,0Z";
const styles=[
  {data:controlData,sym:circlePath,mk:"#000",mkOp:0.68,ln:"#5a5ae0",lnOp:0.75,band:"#141414",bandOp:0.68,bandW:14},
  {data:nafionData,sym:triPath,mk:"#0000ff",mkOp:0.6,ln:"#3030ff",lnOp:0.65,band:"#0000f0",bandOp:0.85,bandW:12.5,top:"#0000b8",topOp:0.6,topW:5},
  {data:deaData,sym:diaPath,mk:"#ff0000",mkOp:0.55,ln:"#ff3030",lnOp:0.65,band:"#ff5050",bandOp:0.72,bandW:13.5,top:"#e00000",topOp:0.85,topW:7}
];
const line=d3.line().x(d=>x(d[0])).y(d=>y(d[1]));
// runs of closely spaced samples, where the original markers pile up into a solid band
function denseRuns(data,maxPx){
  const runs=[];let cur=[data[0]];
  for(let i=1;i<data.length;i++){
    const a=data[i-1],b=data[i];
    const d=Math.hypot(x(b[0])-x(a[0]),y(b[1])-y(a[1]));
    if(d<=maxPx)cur.push(b);else{if(cur.length>1)runs.push(cur);cur=[b];}
  }
  if(cur.length>1)runs.push(cur);
  return runs;
}
styles.forEach(s=>{
  const g=svg.append("g");
  const runs=denseRuns(s.data,7.5);
  g.selectAll("path.band").data(runs).join("path").attr("class","band")
    .attr("d",line).attr("fill","none").attr("stroke",s.band).attr("stroke-opacity",s.bandOp)
    .attr("stroke-width",s.bandW).attr("stroke-linecap","round").attr("stroke-linejoin","round");
  if(s.top){
    g.selectAll("path.top").data(runs).join("path").attr("class","top")
      .attr("transform",`translate(0,${-(s.bandW-s.topW)/2})`)
      .attr("d",line).attr("fill","none").attr("stroke",s.top).attr("stroke-opacity",s.topOp)
      .attr("stroke-width",s.topW).attr("stroke-linecap","round").attr("stroke-linejoin","round");
  }
  g.append("path").datum(s.data).attr("d",line).attr("fill","none")
    .attr("stroke",s.ln).attr("stroke-opacity",s.lnOp).attr("stroke-width",0.9);
  g.selectAll("path.m").data(s.data).join("path").attr("class","m")
    .attr("transform",d=>`translate(${x(d[0])},${y(d[1])})`)
    .attr("d",s.sym).attr("fill","none").attr("stroke",s.mk)
    .attr("stroke-opacity",s.mkOp).attr("stroke-width",1);
});

// frame
svg.append("rect").attr("x",84).attr("y",21).attr("width",533).attr("height",367)
  .attr("fill","none").attr("stroke","#111").attr("stroke-width",1.4);

// legend
const legX=[186,368,488], legTX=[199,383,500], legY=58;
styles.forEach((s,i)=>{
  svg.append("line").attr("x1",legX[i]-12).attr("x2",legX[i]+12).attr("y1",legY).attr("y2",legY)
    .attr("stroke",s.ln).attr("stroke-opacity",s.lnOp).attr("stroke-width",1);
  svg.append("path").attr("transform",`translate(${legX[i]},${legY})`).attr("d",s.sym)
    .attr("fill","white").attr("stroke",s.mk).attr("stroke-opacity",s.mkOp).attr("stroke-width",1);
  svg.append("text").attr("x",legTX[i]).attr("y",legY+7).attr("font-size",20)
    .attr("font-family",FONT).attr("fill","#111").text(seriesNames[i]);
});

// titles
svg.append("text").attr("x",351).attr("y",441).attr("text-anchor","middle")
  .attr("font-size",22).attr("font-family",FONT).attr("fill","#111").text(xTitle);
svg.append("text").attr("transform","translate(32,196) rotate(-90)").attr("text-anchor","middle")
  .attr("font-size",26).attr("font-family",FONT).attr("fill","#111").text(yTitle);
</script></body></html>
